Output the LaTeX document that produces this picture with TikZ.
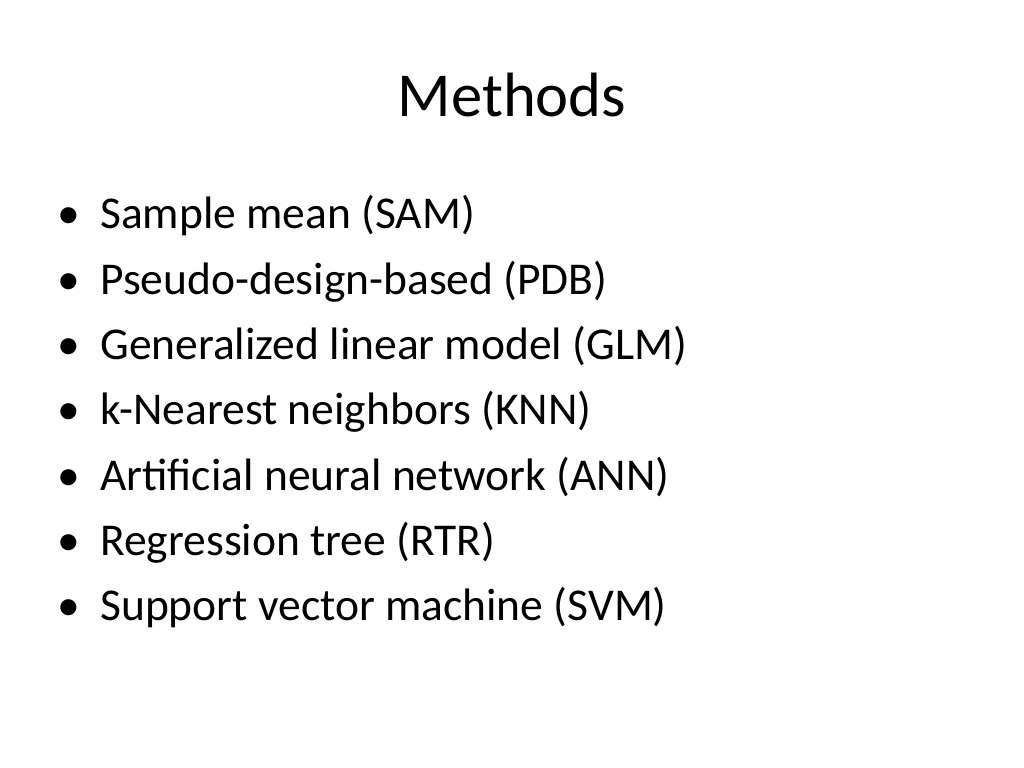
\documentclass[tikz,border=0pt]{standalone}
\usepackage{fontspec}
\setmainfont{Carlito}
\begin{document}
\begin{tikzpicture}[x=0.703125pt,y=-0.703125pt,
  itemtext/.style={anchor=base west,inner sep=0pt,font=\fontsize{32}{38}\selectfont},
  itemdot/.style={anchor=base west,inner sep=0pt,font=\fontsize{32}{38}\selectfont}]
\useasboundingbox (0,0) rectangle (1024,768);
\node[anchor=base,inner sep=0pt,font=\fontsize{44}{52}\selectfont] (title) at (512,117) {Methods};
%
\foreach \txt [count=\i] in {Sample mean (SAM),Pseudo-design-based (PDB),Generalized linear model (GLM),k-Nearest neighbors (KNN),Artificial neural network (ANN),Regression tree (RTR),Support vector machine (SVM)}{
  \node[itemdot] (dot\i) at (57,{229+65.3*(\i-1)}) {•};
  \node[itemtext] (item\i) at (100,{229+65.3*(\i-1)}) {\txt};
}
\end{tikzpicture}
\end{document}
